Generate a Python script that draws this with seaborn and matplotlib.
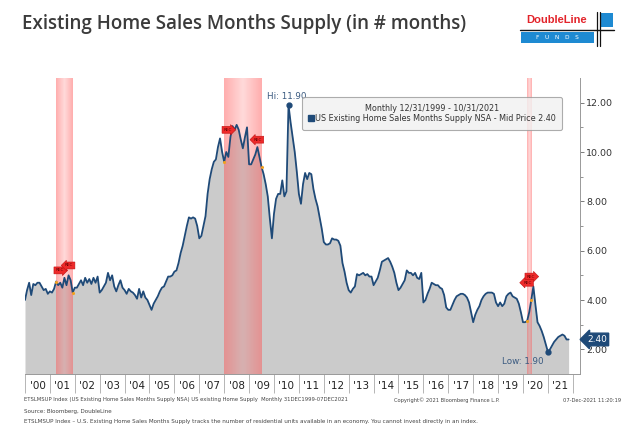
import numpy as np
import pandas as pd
import seaborn as sns
import matplotlib.pyplot as plt
import matplotlib.transforms as mtransforms
from matplotlib.lines import Line2D
from matplotlib.patches import Rectangle

sns.set_theme(style="white")
plt.rcParams["font.family"] = ["DejaVu Sans"]

# monthly months-supply readings, Dec 1999 .. Oct 2021
dec_1999 = [4.0]
supply_2000 = [4.4, 4.7, 4.2, 4.65, 4.6, 4.7, 4.7, 4.55, 4.4, 4.45, 4.25, 4.35]
supply_2001 = [4.3, 4.45, 4.75, 4.6, 4.7, 4.5, 4.9, 4.6, 5.0, 4.8, 4.3, 4.5]
supply_2002 = [4.5, 4.65, 4.8, 4.6, 4.9, 4.7, 4.85, 4.65, 4.9, 4.7, 4.95, 4.3]
supply_2003 = [4.4, 4.55, 4.7, 5.1, 4.8, 5.0, 4.55, 4.35, 4.6, 4.8, 4.5, 4.4]
supply_2004 = [4.25, 4.45, 4.35, 4.3, 4.2, 4.05, 4.45, 4.1, 4.35, 4.1, 4.0, 3.8]
supply_2005 = [3.6, 3.85, 4.0, 4.15, 4.35, 4.5, 4.55, 4.75, 4.95, 4.95, 5.0, 5.15]
supply_2006 = [5.2, 5.5, 5.9, 6.2, 6.6, 7.0, 7.35, 7.3, 7.35, 7.3, 7.0, 6.5]
supply_2007 = [6.6, 7.0, 7.4, 8.3, 8.9, 9.3, 9.6, 9.7, 10.2, 10.55, 10.0, 9.6]
supply_2008 = [10.0, 9.8, 10.6, 11.05, 10.9, 11.1, 10.9, 10.5, 10.15, 10.6, 11.0, 9.5]
supply_2009 = [9.5, 9.7, 9.9, 10.2, 9.8, 9.4, 9.1, 8.7, 8.2, 7.3, 6.5, 7.5]
supply_2010 = [8.1, 8.3, 8.3, 8.85, 8.2, 8.4, 11.9, 11.2, 10.6, 10.0, 9.2, 8.3]
supply_2011 = [7.9, 8.7, 9.15, 8.9, 9.15, 9.1, 8.5, 8.1, 7.8, 7.35, 6.9, 6.35]
supply_2012 = [6.25, 6.25, 6.3, 6.5, 6.45, 6.45, 6.4, 6.2, 5.5, 5.15, 4.7, 4.4]
supply_2013 = [4.3, 4.45, 4.55, 5.05, 5.0, 5.05, 5.1, 5.0, 5.05, 4.95, 4.95, 4.6]
supply_2014 = [4.75, 4.9, 5.2, 5.55, 5.6, 5.65, 5.7, 5.55, 5.35, 5.1, 4.7, 4.4]
supply_2015 = [4.5, 4.65, 4.8, 5.2, 5.1, 5.1, 5.0, 5.1, 4.9, 4.85, 5.1, 3.9]
supply_2016 = [4.0, 4.25, 4.45, 4.7, 4.65, 4.6, 4.6, 4.5, 4.45, 4.2, 3.7, 3.6]
supply_2017 = [3.6, 3.8, 4.0, 4.15, 4.2, 4.25, 4.25, 4.2, 4.1, 3.9, 3.5, 3.1]
supply_2018 = [3.4, 3.6, 3.75, 4.0, 4.15, 4.25, 4.3, 4.3, 4.3, 4.25, 3.9, 3.75]
supply_2019 = [3.9, 3.75, 3.85, 4.15, 4.25, 4.3, 4.15, 4.1, 4.05, 3.85, 3.5, 3.1]
supply_2020 = [3.1, 3.15, 3.5, 4.0, 4.55, 3.8, 3.1, 2.95, 2.75, 2.5, 2.2, 1.9]
supply_2021 = [2.0, 2.15, 2.3, 2.4, 2.5, 2.55, 2.6, 2.55, 2.4, 2.4]

recessions = [("2001-03-31", "2001-11-30"),
              ("2007-12-31", "2009-06-30"),
              ("2020-02-29", "2020-04-30")]

years = list(range(2000, 2022))
year_labels = ["'%02d" % (y % 100) for y in years]

values = (dec_1999 + supply_2000 + supply_2001 + supply_2002 + supply_2003 + supply_2004
          + supply_2005 + supply_2006 + supply_2007 + supply_2008 + supply_2009 + supply_2010
          + supply_2011 + supply_2012 + supply_2013 + supply_2014 + supply_2015 + supply_2016
          + supply_2017 + supply_2018 + supply_2019 + supply_2020 + supply_2021)
dates = pd.date_range("1999-12-31", "2021-10-31", freq="ME")


def dec_year(d):
    return d.year + d.month / 12.0


df = pd.DataFrame({"date": dates, "supply": values})
df["t"] = [dec_year(d) for d in df["date"]]

navy = "#1f4a78"
y_lo, y_hi = 1.0, 13.0

fig = plt.figure(figsize=(6.24, 4.33), dpi=100)
fig.patch.set_facecolor("white")
ax = fig.add_axes([24.5 / 624, 1 - 374 / 433, 555.5 / 624, 296 / 433])

ax.fill_between(df["t"], df["supply"], y_lo, color="#cbcbcb", lw=0, zorder=1)

# recession bands with a soft gradient
for s, e in recessions:
    x0, x1 = dec_year(pd.Timestamp(s)), dec_year(pd.Timestamp(e))
    prof = np.linspace(-1, 1, 60)
    rgba = np.zeros((1, 60, 4))
    rgba[..., 0] = 1.0
    rgba[..., 1] = 0.33
    rgba[..., 2] = 0.33
    rgba[..., 3] = 0.22 + 0.26 * np.abs(prof)
    ax.imshow(rgba, extent=[x0, x1, y_lo, y_hi], aspect="auto", zorder=2,
              interpolation="bilinear")

sns.lineplot(data=df, x="t", y="supply", color=navy, lw=1.3, ax=ax, zorder=3)

# recession tags (vertical lift above the line, in data units) and markers on the line
tag_lift_start = [0.45, 1.3, 1.8]
tag_lift_end = [1.1, 1.1, 0.7]
for (s, e), ls_, le_ in zip(recessions, tag_lift_start, tag_lift_end):
    ds, de = pd.Timestamp(s), pd.Timestamp(e)
    vs = df.loc[df["date"] == ds, "supply"].iloc[0]
    ve = df.loc[df["date"] == de, "supply"].iloc[0]
    ax.scatter([dec_year(ds), dec_year(de)], [vs, ve], s=5, color="#f0a020", zorder=4, lw=0)
    ax.text(dec_year(ds) + 0.14, vs + ls_, "REC", fontsize=3.0, color="#600000",
            ha="center", va="center", zorder=5,
            bbox=dict(boxstyle="rarrow,pad=0.35", fc="#ee2a2a", ec="#c01010", lw=0.4))
    ax.text(dec_year(de) - 0.14, ve + le_, "REC", fontsize=3.0, color="#600000",
            ha="center", va="center", zorder=5,
            bbox=dict(boxstyle="larrow,pad=0.35", fc="#ee2a2a", ec="#c01010", lw=0.4))

# high / low markers
hi = df.loc[df["supply"].idxmax()]
lo = df.loc[df["supply"].idxmin()]
ax.plot([hi["t"]], [hi["supply"]], "o", ms=3.5, color=navy, zorder=5)
ax.plot([lo["t"]], [lo["supply"]], "o", ms=3.5, color=navy, zorder=5)
ax.annotate("Hi: %.2f" % hi["supply"], (hi["t"], hi["supply"]), xytext=(-1, 3),
            textcoords="offset points", ha="center", va="bottom", fontsize=6.3,
            color="#3a5a80")
ax.annotate("Low: %.2f" % lo["supply"], (lo["t"], lo["supply"]), xytext=(-3, -7),
            textcoords="offset points", ha="right", va="center", fontsize=6.3,
            color="#3a5a80")

# last value tag on the right axis
last = df["supply"].iloc[-1]
ax.annotate("%.2f" % last, xy=(1, last),
            xycoords=mtransforms.blended_transform_factory(ax.transAxes, ax.transData),
            xytext=(5, 0), textcoords="offset points", ha="left", va="center",
            fontsize=6.5, color="white",
            bbox=dict(boxstyle="larrow,pad=0.2", fc=navy, ec=navy))

ax.set_xlim(2000 - 0.02, 2022.29)
ax.set_ylim(y_lo, y_hi)
ax.set_xlabel("")
ax.set_ylabel("")

ax.yaxis.tick_right()
ax.set_yticks(range(2, 13, 2))
ax.set_yticklabels(["%.2f" % v for v in range(2, 13, 2)])
ax.set_yticks(range(3, 13, 2), minor=True)
ax.tick_params(axis="y", which="major", right=True, length=3, width=0.6, color="#666666",
               labelsize=6.8, labelcolor="#333333", pad=1.5)
ax.tick_params(axis="y", which="minor", right=True, length=2, width=0.5, color="#666666")

ax.set_xticks(years + [2022])
ax.set_xticklabels([])
ax.set_xticks([y + 0.5 for y in years], minor=True)
ax.set_xticklabels(year_labels, minor=True)
ax.tick_params(axis="x", which="major", bottom=True, length=14, width=0.6, color="#aaaaaa")
ax.tick_params(axis="x", which="minor", bottom=False, length=0, labelsize=7.5,
               labelcolor="#222222", pad=5)

for side in ["top", "left"]:
    ax.spines[side].set_visible(False)
for side in ["right", "bottom"]:
    ax.spines[side].set_color("#999999")
    ax.spines[side].set_linewidth(0.7)

handle = Line2D([], [], marker="s", ls="", color=navy, ms=4)
leg = ax.legend([handle], ["US Existing Home Sales Months Supply NSA - Mid Price %.2f" % last],
                title="Monthly 12/31/1999 - 10/31/2021", loc="upper left",
                bbox_to_anchor=(0.4995, 0.935), fontsize=5.8, title_fontsize=5.8,
                frameon=True, fancybox=True, handlelength=0.6, handletextpad=0.2,
                borderpad=0.8, labelspacing=0.2, borderaxespad=0)
leg.get_frame().set_facecolor("#f1f1f1")
leg.get_frame().set_edgecolor("#999999")
leg.get_frame().set_linewidth(0.8)
leg.get_title().set_color("#333333")
for txt in leg.get_texts():
    txt.set_color("#333333")
leg.set_zorder(6)

# title and logo
fig.text(22 / 624, 1 - 24 / 433, "Existing Home Sales Months Supply (in # months)",
         fontsize=13.5, fontweight="semibold", family=["Open Sans", "DejaVu Sans"],
         color="#3b3b3b", ha="left", va="center")


def fx(px):
    return px / 624


def fy(py):
    return 1 - py / 433


fig.text(fx(557), fy(20), "DoubleLine", fontsize=8, fontweight="bold", color="#e3242b",
         ha="center", va="center", family=["Liberation Sans", "DejaVu Sans"])
fig.add_artist(Rectangle((fx(521), fy(43)), fx(594) - fx(521), fy(32) - fy(43),
                         transform=fig.transFigure, fc="#1e8ad2", ec="none"))
fig.text(fx(557), fy(37.5), "F   U   N   D   S", fontsize=4.2, color="white",
         ha="center", va="center")
fig.add_artist(Rectangle((fx(601), fy(27)), fx(613) - fx(601), fy(13) - fy(27),
                         transform=fig.transFigure, fc="#1e8ad2", ec="none"))
fig.add_artist(Line2D([fx(520), fx(614)], [fy(29.5), fy(29.5)], transform=fig.transFigure,
                      color="#111111", lw=1.0))
for xv in (596.5, 599.5):
    fig.add_artist(Line2D([fx(xv), fx(xv)], [fy(12), fy(46)], transform=fig.transFigure,
                          color="#111111", lw=0.9))

# footer
fig.text(fx(24), fy(400),
         "ETSLMSUP Index (US Existing Home Sales Months Supply NSA) US existing Home Supply  "
         "Monthly 31DEC1999-07DEC2021", fontsize=3.8, color="#444444", va="center")
fig.text(fx(394), fy(400), "Copyright\u00a9 2021 Bloomberg Finance L.P.", fontsize=3.7,
         color="#444444", va="center")
fig.text(fx(621), fy(400), "07-Dec-2021 11:20:19", fontsize=3.7, color="#444444",
         va="center", ha="right")
fig.text(fx(24), fy(411), "Source: Bloomberg, DoubleLine", fontsize=4.1, color="#444444",
         va="center")
fig.text(fx(24), fy(422),
         "ETSLMSUP Index \u2013 U.S. Existing Home Sales Months Supply tracks the number of "
         "residential units available in an economy. You cannot invest directly in an index.",
         fontsize=4.1, color="#444444", va="center")

fig.savefig("out.png", dpi=100)
